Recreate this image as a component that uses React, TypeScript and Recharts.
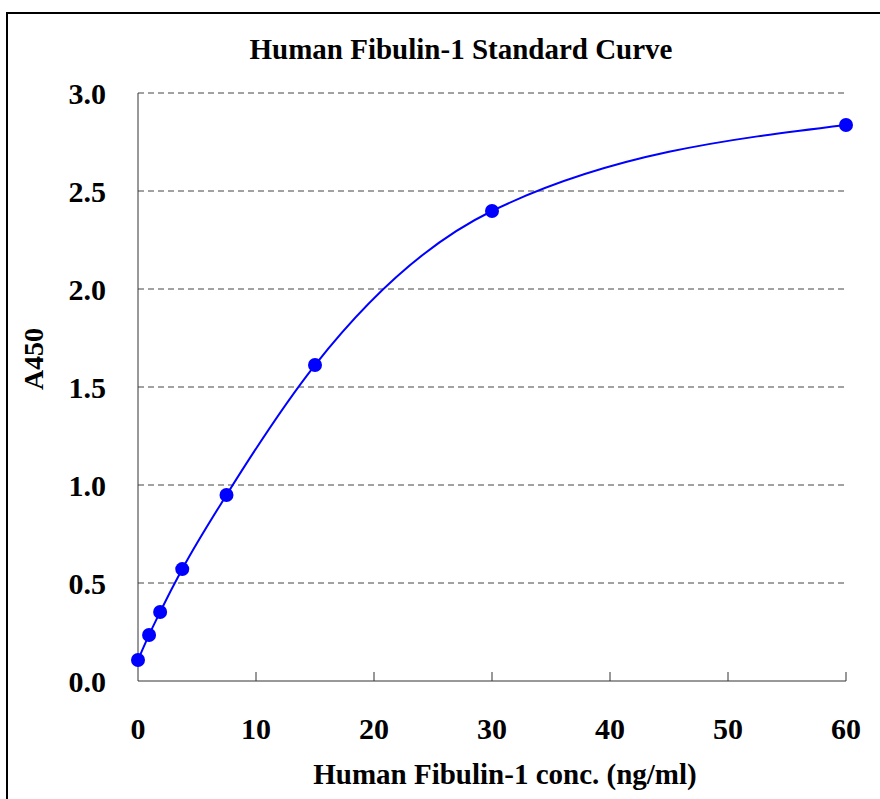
import { LineChart, Line, XAxis, YAxis, CartesianGrid, Label } from 'recharts'

const CONC = [0, 0.938, 1.875, 3.75, 7.5, 15, 30, 60]
const A450 = [0.107, 0.235, 0.352, 0.571, 0.949, 1.612, 2.398, 2.837]
const X_TICKS = [0, 10, 20, 30, 40, 50, 60]
const Y_TICKS = [0, 0.5, 1.0, 1.5, 2.0, 2.5, 3.0]

const data = CONC.map((c, i) => ({ conc: c, a450: A450[i] }))

const FONT = '"Liberation Serif", "Times New Roman", serif'

function XTick({ x, y, payload }: any) {
  return (
    <g>
      {payload.value !== 0 && <line x1={x} y1={y} x2={x} y2={y - 9} stroke="#333" strokeWidth={1} />}
      <text x={x} y={y + 58} textAnchor="middle" fontFamily={FONT} fontWeight="bold" fontSize={30} fill="#000">
        {payload.value}
      </text>
    </g>
  )
}

function YTick({ x, y, payload }: any) {
  return (
    <text x={x - 32} y={y + 11} textAnchor="end" fontFamily={FONT} fontWeight="bold" fontSize={30} fill="#000">
      {Number(payload.value).toFixed(1)}
    </text>
  )
}

export default function App() {
  return (
    <div style={{ position: 'absolute', left: 0, top: 0, width: 880, height: 799, background: '#fff' }}>
      <div
        style={{
          position: 'absolute',
          left: 6,
          top: 12,
          width: 874,
          height: 787,
          borderLeft: '2px solid #000',
          borderTop: '2px solid #000',
        }}
      />
      <svg width={880} height={80} style={{ position: 'absolute', left: 0, top: 0 }}>
        <text x={461} y={59} textAnchor="middle" fontFamily={FONT} fontWeight="bold" fontSize={29} fill="#000">
          Human Fibulin-1 Standard Curve
        </text>
      </svg>
      <div style={{ position: 'absolute', left: 0, top: 0 }}>
        <LineChart width={880} height={799} data={data} margin={{ top: 93, right: 34, bottom: 58, left: 0 }}>
          <CartesianGrid vertical={false} stroke="#444" strokeDasharray="6 4" horizontalValues={[0.5, 1, 1.5, 2, 2.5, 3]} />
          <XAxis
            dataKey="conc"
            type="number"
            domain={[0, 60]}
            ticks={X_TICKS}
            height={60}
            tickSize={0}
            tickMargin={0}
            tickLine={false}
            stroke="#333"
            tick={<XTick />}
            interval={0}
          >
            <Label
              content={() => (
                <text x={505} y={784} textAnchor="middle" fontFamily={FONT} fontWeight="bold" fontSize={29} fill="#000">
                  Human Fibulin-1 conc. (ng/ml)
                </text>
              )}
            />
          </XAxis>
          <YAxis
            type="number"
            domain={[0, 3]}
            ticks={Y_TICKS}
            width={138}
            tickSize={0}
            tickMargin={0}
            tickLine={false}
            stroke="#333"
            tick={<YTick />}
            interval={0}
          >
            <Label
              content={() => (
                <text
                  x={0}
                  y={0}
                  transform="translate(43 359) rotate(-90)"
                  textAnchor="middle"
                  fontFamily={FONT}
                  fontWeight="bold"
                  fontSize={28}
                  fill="#000"
                >
                  A450
                </text>
              )}
            />
          </YAxis>
          <Line
            type="monotone"
            dataKey="a450"
            stroke="#0000ff"
            strokeWidth={2}
            dot={{ r: 7, fill: '#0000ff', stroke: '#0000ff', strokeWidth: 0 }}
            isAnimationActive={false}
          />
        </LineChart>
      </div>
    </div>
  )
}
